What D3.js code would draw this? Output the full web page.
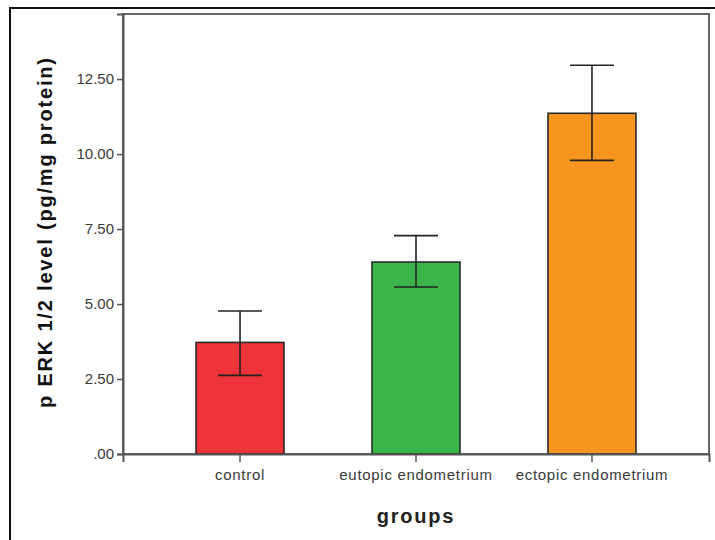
<!DOCTYPE html>
<html>
<head>
<meta charset="utf-8">
<script src="https://cdn.jsdelivr.net/npm/d3@7"></script>
<style>
  html, body { margin: 0; padding: 0; background: #fff; }
  svg { display: block; }
</style>
</head>
<body>
<svg id="chart" width="715" height="540"></svg>
<script>
// Group names, mean levels and the 95% CI bounds drawn as error bars
const categories = ["control", "eutopic endometrium", "ectopic endometrium"];
const means = [3.72, 6.40, 11.36];
const ciLow = [2.62, 5.57, 9.79];
const ciHigh = [4.77, 7.28, 12.96];
const barColors = ["#ef333b", "#3bb44a", "#f7951e"];
const yTicks = [0, 2.5, 5, 7.5, 10, 12.5];
const yTickLabels = [".00", "2.50", "5.00", "7.50", "10.00", "12.50"];

const svg = d3.select("#chart");
const plot = { left: 123, right: 709, top: 14, bottom: 454 };

const x = d3.scaleBand()
  .domain(categories)
  .range([plot.left, plot.right])
  .paddingInner(0.5)
  .paddingOuter(0.415);

const y = d3.scaleLinear()
  .domain([0, 14.67])
  .range([plot.bottom, plot.top]);

// Outer frame (only its left and top edges fall inside the canvas)
svg.append("rect")
  .attr("x", 10).attr("y", 8)
  .attr("width", 740).attr("height", 560)
  .attr("fill", "none")
  .attr("stroke", "#111")
  .attr("stroke-width", 2);

// Plot frame
svg.append("rect")
  .attr("x", plot.left).attr("y", plot.top)
  .attr("width", plot.right - plot.left)
  .attr("height", plot.bottom - plot.top)
  .attr("fill", "#fff")
  .attr("stroke", "#666")
  .attr("stroke-width", 2);

const data = categories.map((c, i) => ({
  cat: c, mean: means[i], lo: ciLow[i], hi: ciHigh[i], color: barColors[i]
}));

// Bars
svg.append("g").selectAll("rect")
  .data(data)
  .join("rect")
  .attr("x", d => x(d.cat))
  .attr("y", d => y(d.mean))
  .attr("width", x.bandwidth())
  .attr("height", d => y(0) - y(d.mean))
  .attr("fill", d => d.color)
  .attr("stroke", "#2a2a2a")
  .attr("stroke-width", 1.6);

// Error bars
const capHalf = x.bandwidth() / 4;
const eb = svg.append("g")
  .attr("stroke", "#222")
  .attr("stroke-width", 1.6)
  .selectAll("g")
  .data(data)
  .join("g")
  .attr("transform", d => `translate(${x(d.cat) + x.bandwidth() / 2},0)`);
eb.append("line").attr("x1", 0).attr("x2", 0)
  .attr("y1", d => y(d.lo)).attr("y2", d => y(d.hi));
eb.append("line").attr("x1", -capHalf).attr("x2", capHalf)
  .attr("y1", d => y(d.hi)).attr("y2", d => y(d.hi));
eb.append("line").attr("x1", -capHalf).attr("x2", capHalf)
  .attr("y1", d => y(d.lo)).attr("y2", d => y(d.lo));

// Y axis
const yAxis = d3.axisLeft(y)
  .tickValues(yTicks)
  .tickFormat((d, i) => yTickLabels[i])
  .tickSize(6)
  .tickPadding(3);
const yg = svg.append("g")
  .attr("transform", `translate(${plot.left},0)`)
  .call(yAxis);
yg.select(".domain").attr("stroke", "#555").attr("stroke-width", 2);
yg.selectAll(".tick line").attr("stroke", "#555").attr("stroke-width", 1.5);
yg.selectAll(".tick text")
  .attr("fill", "#3a3a3a")
  .style("font-family", "'Liberation Sans', Arial, sans-serif")
  .style("font-size", "15px");

// X axis
const xAxis = d3.axisBottom(x).tickSize(8).tickPadding(7);
const xg = svg.append("g")
  .attr("transform", `translate(0,${plot.bottom})`)
  .call(xAxis);
xg.select(".domain").attr("stroke", "#555").attr("stroke-width", 2);
xg.selectAll(".tick line").attr("stroke", "#555").attr("stroke-width", 1.5);
xg.selectAll(".tick text")
  .attr("fill", "#3a3a3a")
  .style("font-family", "'Liberation Sans', Arial, sans-serif")
  .style("font-size", "15px")
  .style("letter-spacing", "0.7px");

// Axis titles
svg.append("text")
  .attr("transform", `translate(52,${233}) rotate(-90)`)
  .attr("text-anchor", "middle")
  .attr("textLength", 350)
  .attr("lengthAdjust", "spacing")
  .attr("fill", "#111")
  .style("font-family", "'Liberation Sans', Arial, sans-serif")
  .style("font-weight", "bold")
  .style("font-size", "20px")
  .text("p ERK 1/2 level (pg/mg protein)");

svg.append("text")
  .attr("x", (plot.left + plot.right) / 2)
  .attr("y", 523)
  .attr("text-anchor", "middle")
  .attr("fill", "#222")
  .style("font-family", "'Liberation Sans', Arial, sans-serif")
  .style("font-weight", "bold")
  .style("font-size", "20px")
  .style("letter-spacing", "1.8px")
  .text("groups");
</script>
</body>
</html>
